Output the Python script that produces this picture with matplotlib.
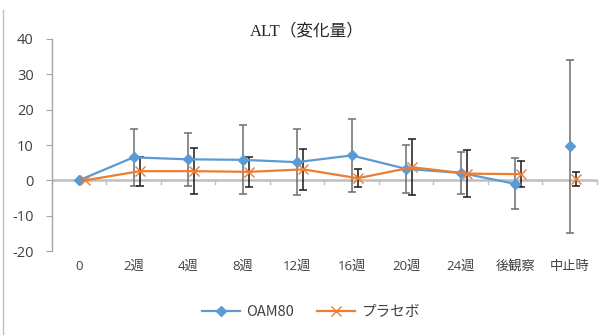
import numpy as np
import matplotlib.pyplot as plt
from matplotlib.lines import Line2D

# ALT change from baseline, mean and SD per visit
visits = ["0", "2週", "4週", "8週", "12週", "16週", "20週", "24週", "後観察", "中止時"]
oam80_mean = [0.0, 6.5, 5.95, 5.8, 5.15, 7.05, 3.25, 2.1, -1.0, 9.6]
oam80_sd = [0.0, 8.0, 7.45, 9.8, 9.35, 10.35, 6.75, 5.9, 7.2, 24.5]
placebo_mean = [0.0, 2.6, 2.6, 2.4, 3.1, 0.6, 3.7, 1.9, 1.75, 0.45]
placebo_sd = [0.0, 4.1, 6.6, 4.3, 5.9, 2.5, 7.9, 6.6, 3.65, 2.0]

blue = "#5B9BD5"
orange = "#ED7D31"
grey_axis = "#BFBFBF"
text_col = "#404040"

tick_font = ["Open Sans", "Noto Sans CJK JP"]
jp_font = ["Noto Sans CJK JP", "DejaVu Sans"]

fig = plt.figure(figsize=(6.07, 3.35), dpi=100)
ax = fig.add_axes([0.0852, 0.2507, 0.8983, 0.6329])

x = np.arange(len(visits))
xo = x + 0.115  # placebo points sit slightly right of the category centre
n_line = len(visits) - 1  # 中止時 is shown as a separate, unconnected point


def draw_series(xs, mean, sd, color, marker, ms, mew, bar_col, label):
    ax.plot(xs[:n_line], mean[:n_line], color=color, lw=1.6, zorder=3,
            marker=marker, ms=ms, mew=mew, mfc=color, mec=color, label=label)
    ax.plot(xs[n_line:], mean[n_line:], ls="none", marker=marker, ms=ms,
            mew=mew, mfc=color, mec=color, zorder=3)
    _, caps, bars = ax.errorbar(xs, mean, yerr=sd, fmt="none", ecolor=bar_col,
                                elinewidth=1.1, capsize=3.2, capthick=1.1, zorder=2)
    for c in caps:
        c.set_color("#1a1a1a")


draw_series(x, np.array(oam80_mean), np.array(oam80_sd), blue, "D", 5.5, 1,
            "#6e6e6e", "OAM80")
draw_series(xo, np.array(placebo_mean), np.array(placebo_sd), orange, "x", 7, 1,
            "#1a1a1a", "プラセボ")

ax.set_xlim(-0.5, len(visits) - 0.5)
ax.set_ylim(-20, 40)
ax.set_yticks([-20, -10, 0, 10, 20, 30, 40])
ax.set_yticklabels(["-20", "-10", "0", "10", "20", "30", "40"])

# horizontal axis drawn at y = 0 with ticks on category boundaries
ax.axhline(0, color=grey_axis, lw=1.8, zorder=1)
for b in np.arange(-0.5, len(visits) + 0.5, 1.0):
    ax.plot([b, b], [0, -1.1], color=grey_axis, lw=1, zorder=1, clip_on=False)

for s in ["top", "right", "bottom"]:
    ax.spines[s].set_visible(False)
ax.spines["left"].set_color("#A6A6A6")
ax.spines["left"].set_linewidth(1)
ax.tick_params(axis="y", direction="out", length=4, color="#A6A6A6",
               labelsize=10.5, labelcolor=text_col, pad=9)
ax.tick_params(axis="x", length=0)
ax.set_xticks([])
for lab in ax.get_yticklabels():
    lab.set_family(tick_font)

for i, v in enumerate(visits):
    ax.text(i, -24.3, v, ha="center", va="center", fontsize=9.5,
            color=text_col, family=tick_font)

fig.text(0.506, 0.905, "ALT（変化量）", ha="center", va="center", fontsize=12,
         color="#262626", family=["Liberation Serif", "Noto Sans CJK JP"])

leg = fig.legend(loc="center", bbox_to_anchor=(0.512, 0.068), ncol=2, frameon=False,
                 fontsize=10.5, handlelength=2.6, columnspacing=1.6, handletextpad=0.4)
for t in leg.get_texts():
    t.set_family(jp_font)
    t.set_color(text_col)

# chart frame edge on the left
fig.add_artist(Line2D([3.3 / 607, 3.3 / 607], [0, 1 - 10 / 335],
                      transform=fig.transFigure, color="#BFBFBF", lw=1))

fig.savefig("out.png", dpi=100)
